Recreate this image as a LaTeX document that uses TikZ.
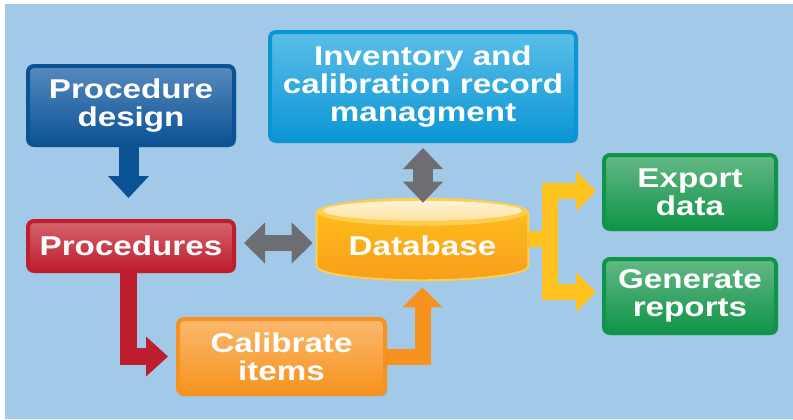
\documentclass[tikz,border=0pt]{standalone}
\usepackage{fontspec}
\setmainfont[FakeStretch=1.22]{Liberation Sans}
\usepackage{xcolor}
\usepackage{tikz}
\usetikzlibrary{arrows.meta, positioning, calc, shadows, backgrounds}

\definecolor{bgblue}{RGB}{163,201,232}
\definecolor{designdark}{RGB}{10,82,148}
\definecolor{designlight}{RGB}{88,138,190}
\definecolor{invdark}{RGB}{10,150,212}
\definecolor{invlight}{RGB}{92,190,232}
\definecolor{procdark}{RGB}{190,30,46}
\definecolor{proclight}{RGB}{212,100,110}
\definecolor{calibdark}{RGB}{247,146,30}
\definecolor{caliblight}{RGB}{250,185,110}
\definecolor{greendark}{RGB}{16,148,72}
\definecolor{greenlight}{RGB}{100,184,134}
\definecolor{linkgrey}{RGB}{108,110,115}
\definecolor{linkyellow}{RGB}{254,194,32}
\definecolor{dbtop}{RGB}{253,188,28}
\definecolor{dbbottom}{RGB}{248,158,26}
\definecolor{dbrim}{RGB}{253,206,80}
\definecolor{dbcream}{RGB}{255,244,215}
\definecolor{dbcreamlow}{RGB}{253,226,160}

\begin{document}
\begin{tikzpicture}[
        x=0.75pt, y=-0.75pt,
        box/.style={rectangle, rounded corners=4.5pt, line width=3pt, inner sep=1pt, align=center, text=white,
            font=\bfseries\fontsize{20.4}{21}\selectfont,
            drop shadow={shadow xshift=1.5pt, shadow yshift=-1.5pt, opacity=0.35, fill=black!70}},
        colbox/.style 2 args={box, draw=#1, top color=#2, bottom color=#1},
        dbtext/.style={rectangle, inner sep=0pt, minimum width=158.25pt, minimum height=51pt, text=white,
            font=\bfseries\fontsize{20.4}{21}\selectfont},
        onearrow/.style n args={3}{line width=#1, -{Triangle[width=#2, length=#3, line width=0pt]}},
        twoarrow/.style n args={3}{line width=#1,
            {Triangle[width=#2, length=#3, line width=0pt]}-{Triangle[width=#2, length=#3, line width=0pt]}}
    ]
        \useasboundingbox (0,0) rectangle (793,419);

        % boxes
        \node[colbox={designdark}{designlight}, minimum width=154.5pt, minimum height=59.25pt] (design) at (131,105.5) {Procedure\\design};
        \node[colbox={invdark}{invlight}, minimum width=229.5pt, minimum height=81.75pt] (inventory) at (423,86.5) {Inventory and\\calibration record\\managment};
        \node[colbox={procdark}{proclight}, minimum width=154.5pt, minimum height=37.5pt] (procs) at (131,246) {Procedures};
        \node[colbox={calibdark}{caliblight}, minimum width=155.25pt, minimum height=56.25pt] (calib) at (281.5,356.5) {Calibrate\\items};
        \node[colbox={greendark}{greenlight}, minimum width=129pt, minimum height=55.5pt] (export) at (690,192) {Export\\data};
        \node[colbox={greendark}{greenlight}, minimum width=129pt, minimum height=55.5pt, below=19.5pt of export] (reports) {Generate\\reports};
        \node[dbtext] (db) at (422.5,246) {Database};

        \begin{scope}[on background layer]
            \fill[white] (0,0) rectangle (793,419);
            \fill[bgblue] (5,4) rectangle (793,419);

            % database cylinder
            \shade[top color=dbtop, bottom color=dbbottom, draw=dbrim, line width=1.5pt]
                (db.north west) -- ($(db.south west)+(0,-14)$)
                .. controls ($(db.south west)+(0,-6.27)$) and ($(db.south)+(-58.27,0)$) .. (db.south)
                .. controls ($(db.south)+(58.27,0)$) and ($(db.south east)+(0,-6.27)$) .. ($(db.south east)+(0,-14)$)
                -- (db.north east) -- cycle;
            \fill[dbrim] (db.north) ellipse [x radius=105.5, y radius=14];
            \shade[top color=dbcream, bottom color=dbcreamlow] ($(db.north)+(0,-1)$) ellipse [x radius=99, y radius=10];

            % links
            \draw[onearrow={15pt}{30.75pt}{16.5pt}, draw=designdark, fill=designdark, shorten >=15.75pt]
                ($(design.south)+(-2.5,0)$) -- ($(procs.north)+(-2.5,0)$);
            \draw[twoarrow={12pt}{30.75pt}{15.75pt}, draw=linkgrey, shorten <=6pt, shorten >=3pt]
                ($(procs.east)+(0,-3)$) -- ($(db.west)+(0,-3)$);
            \draw[twoarrow={15pt}{30pt}{15.75pt}, draw=linkgrey, shorten <=3.75pt, shorten >=6.75pt]
                (inventory.south) -- (inventory.south |- db.north);
            \draw[onearrow={12.75pt}{30pt}{16.5pt}, draw=procdark, shorten >=6pt]
                ($(procs.south)+(-2.5,0)$) |- (calib.west);
            \draw[onearrow={12pt}{30pt}{15pt}, draw=calibdark, shorten >=5.25pt]
                (calib.east) -| (db.south);
            \coordinate (fork) at ($(db.east)+(21.5,-7.5)$);
            \draw[onearrow={12pt}{30pt}{15pt}, draw=linkyellow, shorten >=4.5pt]
                (db.east |- fork) -- (fork) |- ($(export.west)+(0,-1)$);
            \draw[onearrow={12pt}{30pt}{15pt}, draw=linkyellow, shorten >=4.5pt]
                (db.east |- fork) -- (fork) |- ($(reports.west)+(0,-4)$);
        \end{scope}
    \end{tikzpicture}
\end{document}
